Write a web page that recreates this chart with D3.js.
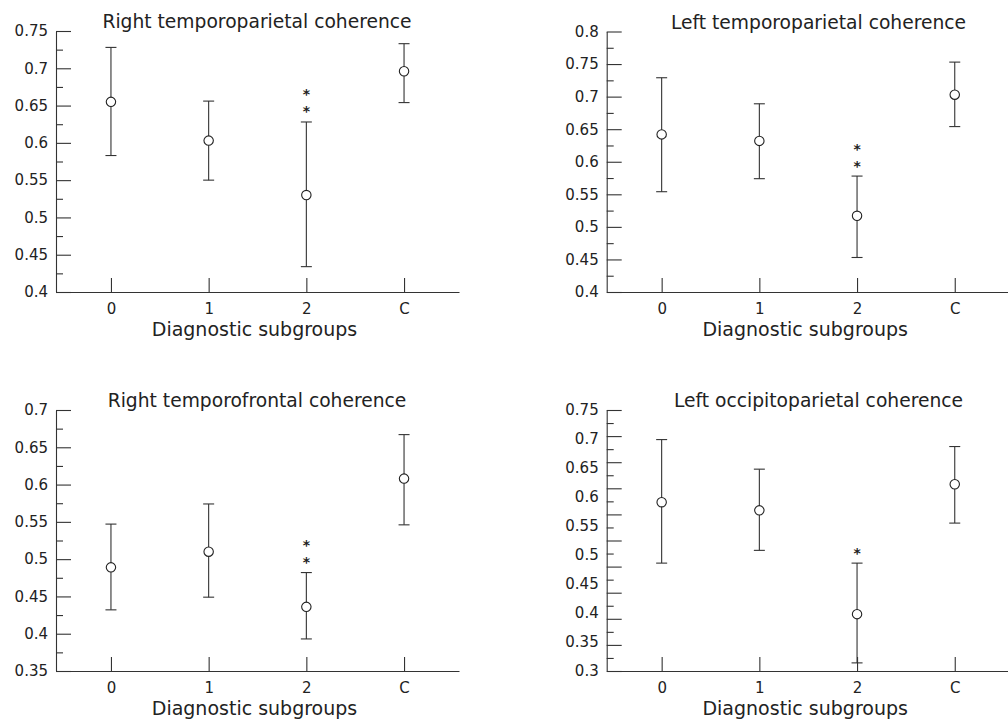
<!DOCTYPE html>
<html>
<head>
<meta charset="utf-8">
<title>Coherence by diagnostic subgroup</title>
<script src="https://cdn.jsdelivr.net/npm/d3@7"></script>
<style>
  body { margin: 0; background: #fff; }
  text { font-family: "DejaVu Sans", sans-serif; fill: #222; }
</style>
</head>
<body>
<script>
const groups = ['0', '1', '2', 'C'];

// Right temporoparietal
const rtpMean  = [0.655, 0.603, 0.530, 0.696];
const rtpUpper = [0.728, 0.656, 0.628, 0.733];
const rtpLower = [0.583, 0.550, 0.434, 0.654];
const rtpStars = [0, 0, 2, 0];
const rtpTicks = [0.4, 0.45, 0.5, 0.55, 0.6, 0.65, 0.7, 0.75];

// Left temporoparietal
const ltpMean  = [0.642, 0.632, 0.517, 0.703];
const ltpUpper = [0.729, 0.689, 0.578, 0.753];
const ltpLower = [0.554, 0.574, 0.453, 0.654];
const ltpStars = [0, 0, 2, 0];
const ltpTicks = [0.4, 0.45, 0.5, 0.55, 0.6, 0.65, 0.7, 0.75, 0.8];

// Right temporofrontal
const rtfMean  = [0.489, 0.510, 0.436, 0.608];
const rtfUpper = [0.547, 0.574, 0.482, 0.667];
const rtfLower = [0.432, 0.449, 0.393, 0.546];
const rtfStars = [0, 0, 2, 0];
const rtfTicks = [0.35, 0.4, 0.45, 0.5, 0.55, 0.6, 0.65, 0.7];

// Left occipitoparietal
const lopMean  = [0.591, 0.577, 0.398, 0.622];
const lopUpper = [0.699, 0.648, 0.486, 0.687];
const lopLower = [0.486, 0.508, 0.314, 0.555];
const lopStars = [0, 0, 1, 0];
const lopTicks = [0.3, 0.35, 0.4, 0.45, 0.5, 0.55, 0.6, 0.65, 0.7, 0.75];

const svg = d3.select('body')
              .append('svg')
              .attr('width', 1008)
              .attr('height', 721);

const AXIS_W = 403;

const drawPanel = (p) => {
  const g = svg.append('g');

  const x = d3.scalePoint()
              .domain(groups)
              .range([p.left, p.left + AXIS_W])
              .padding(0.5625);

  const yMin = p.ticks[0];
  const yMax = p.ticks[p.ticks.length - 1];
  const y = d3.scaleLinear()
              .domain([yMin, yMax])
              .range([p.bottom, p.top]);

  // tick marks (in the occipitoparietal panel they don't line up with the labels)
  const n = Math.round((yMax - yMin) / p.markStep);
  const major = d3.range(n + 1).map((i) => yMin + i * p.markStep);
  const minor = d3.range(n).map((i) => yMin + (i + 0.5) * p.markStep);

  g.append('g')
   .attr('transform', 'translate(' + p.left + ',0)')
   .call(d3.axisLeft(y).tickValues(major).tickSizeInner(-15).tickSizeOuter(0).tickFormat(''));

  g.append('g')
   .attr('transform', 'translate(' + p.left + ',0)')
   .call(d3.axisLeft(y).tickValues(minor).tickSizeInner(-7).tickSizeOuter(0).tickFormat(''))
   .call((a) => a.select('.domain').remove());

  g.append('g')
   .attr('transform', 'translate(' + p.left + ',0)')
   .call(d3.axisLeft(y).tickValues(p.ticks).tickSize(0).tickPadding(8).tickFormat((d) => String(d)))
   .call((a) => a.select('.domain').remove())
   .selectAll('text')
   .style('font-size', '15px');

  g.append('g')
   .attr('transform', 'translate(0,' + p.bottom + ')')
   .call(d3.axisBottom(x).tickSizeInner(-14).tickSizeOuter(0).tickPadding(11))
   .selectAll('text')
   .style('font-size', '15px');

  g.selectAll('.domain, .tick line')
   .attr('stroke', '#333')
   .attr('stroke-width', 1.1);
  g.selectAll('.tick text').attr('fill', '#222');

  // error bars
  const bars = g.selectAll('.bar')
                .data(groups)
                .enter()
                .append('g')
                .attr('class', 'bar');

  bars.append('line')
      .attr('x1', (d) => x(d))
      .attr('x2', (d) => x(d))
      .attr('y1', (d, i) => y(p.lower[i]))
      .attr('y2', (d, i) => y(p.upper[i]));

  bars.append('line')
      .attr('x1', (d) => x(d) - 5.5)
      .attr('x2', (d) => x(d) + 5.5)
      .attr('y1', (d, i) => y(p.upper[i]))
      .attr('y2', (d, i) => y(p.upper[i]));

  bars.append('line')
      .attr('x1', (d) => x(d) - 5.5)
      .attr('x2', (d) => x(d) + 5.5)
      .attr('y1', (d, i) => y(p.lower[i]))
      .attr('y2', (d, i) => y(p.lower[i]));

  bars.selectAll('line')
      .attr('stroke', '#333')
      .attr('stroke-width', 1.1);

  bars.append('circle')
      .attr('cx', (d) => x(d))
      .attr('cy', (d, i) => y(p.mean[i]))
      .attr('r', 4.7)
      .attr('fill', '#fff')
      .attr('stroke', '#222')
      .attr('stroke-width', 1.1);

  // significance stars stacked above the upper whisker
  groups.forEach((gr, i) => {
    for (let k = 0; k < p.stars[i]; k++) {
      g.append('text')
       .attr('x', x(gr))
       .attr('y', y(p.upper[i]) - 5.5 - k * 17)
       .attr('text-anchor', 'middle')
       .style('font-size', '14px')
       .style('font-weight', 'bold')
       .text('*');
    }
  });

  g.append('text')
   .attr('x', p.titleX)
   .attr('y', p.top - 3)
   .attr('text-anchor', 'middle')
   .style('font-size', '18.7px')
   .text(p.title);

  g.append('text')
   .attr('x', p.left + AXIS_W / 2 - 3)
   .attr('y', p.bottom + 44)
   .attr('text-anchor', 'middle')
   .style('font-size', '19px')
   .text('Diagnostic subgroups');
};

drawPanel({
  title: 'Right temporoparietal coherence', titleX: 257,
  mean: rtpMean, upper: rtpUpper, lower: rtpLower, stars: rtpStars,
  ticks: rtpTicks, markStep: 0.05,
  left: 56, top: 31, bottom: 292
});

drawPanel({
  title: 'Left temporoparietal coherence', titleX: 818.5,
  mean: ltpMean, upper: ltpUpper, lower: ltpLower, stars: ltpStars,
  ticks: ltpTicks, markStep: 0.05,
  left: 606.7, top: 31.5, bottom: 292
});

drawPanel({
  title: 'Right temporofrontal coherence', titleX: 257,
  mean: rtfMean, upper: rtfUpper, lower: rtfLower, stars: rtfStars,
  ticks: rtfTicks, markStep: 0.05,
  left: 56, top: 410, bottom: 671
});

drawPanel({
  title: 'Left occipitoparietal coherence', titleX: 818.5,
  mean: lopMean, upper: lopUpper, lower: lopLower, stars: lopStars,
  ticks: lopTicks, markStep: 0.045,
  left: 606.7, top: 410, bottom: 671
});
</script>
</body>
</html>
